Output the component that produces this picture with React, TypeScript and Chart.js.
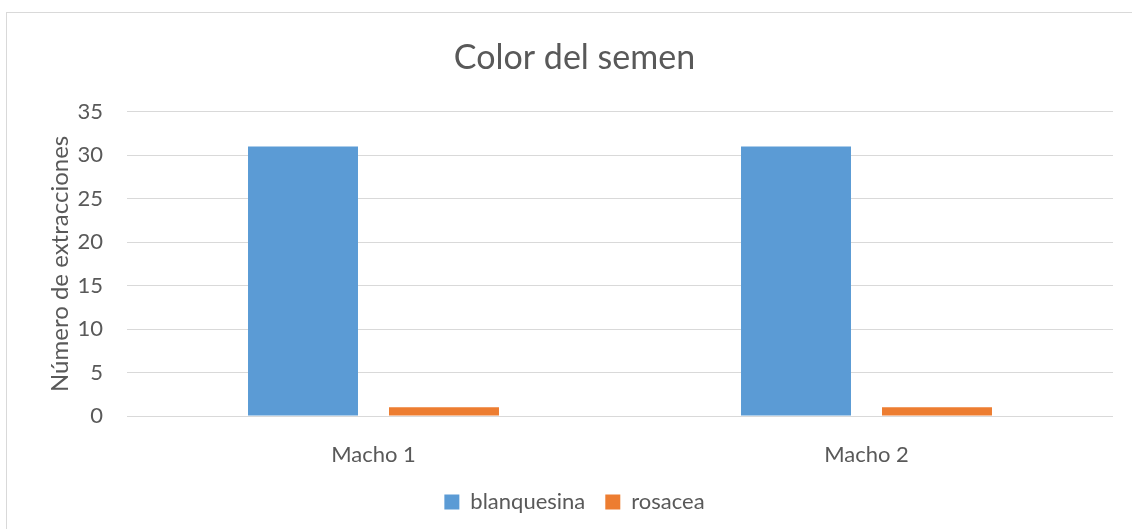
import React, { useEffect, useRef } from "react";
import { Chart, registerables } from "chart.js";

Chart.register(...registerables);

const categories = ["Macho 1", "Macho 2"];
const blanquesina = [31, 31];
const rosacea = [1, 1];
const seriesNames = ["blanquesina", "rosacea"];
const yTicks = [0, 5, 10, 15, 20, 25, 30, 35];

const FONT = "Lato, 'Open Sans', sans-serif";
const TEXT = "#595959";
const GRID = "#D9D9D9";

export default function App() {
  const ref = useRef<HTMLCanvasElement | null>(null);

  useEffect(() => {
    if (!ref.current) return;
    const chart = new Chart(ref.current, {
      type: "bar",
      data: {
        labels: categories,
        datasets: [
          {
            label: seriesNames[0],
            data: blanquesina,
            backgroundColor: "#5B9BD5",
            categoryPercentage: 0.572,
            barPercentage: 0.78,
          },
          {
            label: seriesNames[1],
            data: rosacea,
            backgroundColor: "#ED7D31",
            categoryPercentage: 0.572,
            barPercentage: 0.78,
          },
        ],
      },
      options: {
        responsive: false,
        animation: false,
        maintainAspectRatio: false,
        layout: { padding: { left: 36, right: 19, top: 0, bottom: 6 } },
        plugins: {
          title: {
            display: true,
            text: "Color del semen",
            color: TEXT,
            font: { family: FONT, size: 34, weight: "normal" },
            padding: { top: 38, bottom: 33 },
          },
          legend: {
            position: "bottom",
            labels: {
              color: TEXT,
              font: { family: FONT, size: 22 },
              boxWidth: 15,
              boxHeight: 15,
              padding: 20,
            },
          },
          tooltip: { enabled: false },
        },
        scales: {
          x: {
            grid: { display: false },
            border: { display: false },
            ticks: {
              color: TEXT,
              font: { family: FONT, size: 22 },
              padding: 18,
            },
            afterFit: (s: any) => {
              s.height = 55;
            },
          },
          y: {
            min: 0,
            max: 35,
            afterBuildTicks: (s: any) => {
              s.ticks = yTicks.map((v) => ({ value: v }));
            },
            grid: { color: GRID, lineWidth: 1, drawTicks: false },
            border: { display: false },
            ticks: {
              color: TEXT,
              font: { family: FONT, size: 22 },
              padding: 24,
            },
            title: {
              display: true,
              text: "Número de extracciones",
              color: TEXT,
              font: { family: FONT, size: 24 },
              padding: { top: 10, bottom: 0 },
            },
            afterFit: (s: any) => {
              s.width = 91;
            },
          },
        },
      },
    });
    return () => chart.destroy();
  }, []);

  return (
    <div
      style={{
        position: "fixed",
        left: 0,
        top: 0,
        width: 1132,
        height: 529,
        overflow: "hidden",
        background: "#fff",
      }}
    >
      <div
        style={{
          position: "absolute",
          left: 6,
          top: 12,
          width: 1300,
          height: 700,
          border: "1px solid #D9D9D9",
          boxSizing: "border-box",
        }}
      />
      <canvas
        ref={ref}
        width={1132}
        height={529}
        style={{ position: "absolute", left: 0, top: 0, width: 1132, height: 529 }}
      />
    </div>
  );
}
